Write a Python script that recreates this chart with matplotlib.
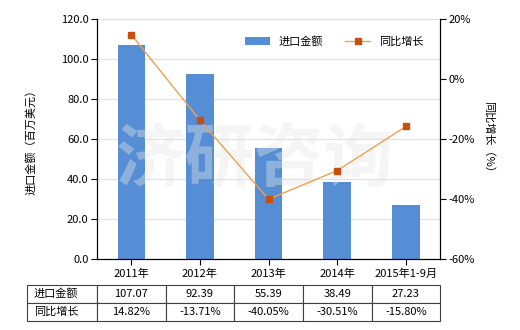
import matplotlib.pyplot as plt
import numpy as np

plt.rcParams['font.family'] = ['Noto Sans CJK SC', 'DejaVu Sans']
plt.rcParams['axes.unicode_minus'] = False

years = ['2011年', '2012年', '2013年', '2014年', '2015年1-9月']
amount = [107.07, 92.39, 55.39, 38.49, 27.23]
growth = [14.82, -13.71, -40.05, -30.51, -15.80]
amount_labels = ['107.07', '92.39', '55.39', '38.49', '27.23']
growth_labels = ['14.82%', '-13.71%', '-40.05%', '-30.51%', '-15.80%']

fig = plt.figure(figsize=(5.2, 3.3), dpi=100)
ax = fig.add_axes([0.1865, 0.215, 0.66, 0.727])
x = np.arange(len(years))

bars = ax.bar(x, amount, width=0.4, color='#558ED5', label='进口金额', zorder=2)
ax.set_xlim(-0.5, len(years) - 0.5)
ax.set_ylim(0, 120)
ax.set_yticks(np.arange(0, 121, 20))
ax.set_yticklabels(['%.1f' % v for v in np.arange(0, 121, 20)], fontsize=8)
ax.set_xticks(x)
ax.set_xticklabels(years, fontsize=8)
ax.tick_params(axis='x', length=4, pad=3)
ax.tick_params(axis='y', length=4, pad=2)
ax.grid(axis='y', color='#E0E0E0', linewidth=0.8, zorder=0)
ax.spines['top'].set_visible(False)
ax.set_ylabel('进口金额（百万美元）', fontsize=8, labelpad=18)

# watermark (above bars, below the line on the twin axes)
ax.text(0.49, 0.515, '济研咨询', transform=fig.transFigure, fontsize=50, color='#E6E6E6',
        alpha=0.4, ha='center', va='center', fontweight='bold', zorder=2.5)

ax2 = ax.twinx()
line, = ax2.plot(x, growth, color='#F0A050', linewidth=1, marker='s', markersize=4,
                 markerfacecolor='#C5500F', markeredgecolor='#C5500F', label='同比增长', zorder=3)
ax2.set_ylim(-60, 20)
ax2.set_yticks(np.arange(-60, 21, 20))
ax2.set_yticklabels(['%d%%' % v for v in np.arange(-60, 21, 20)], fontsize=8)
ax2.tick_params(axis='y', length=4, pad=2)
ax2.spines['top'].set_visible(False)
ax2.set_ylabel('同比增长（%）', fontsize=8, rotation=270, labelpad=14)

leg = ax2.legend([bars, line], ['进口金额', '同比增长'], loc='upper right', ncol=2,
                 frameon=False, fontsize=8, bbox_to_anchor=(0.98, 0.97),
                 handlelength=2.2, columnspacing=2.0)

rows = [['进口金额'] + amount_labels, ['同比增长'] + growth_labels]
table = ax.table(cellText=rows, bbox=[-0.204, -0.258, 1.204, 0.15], cellLoc='center',
                 colWidths=[70] + [68.6] * 5)
table.auto_set_font_size(False)
table.set_fontsize(8)
for (r, c), cell in table.get_celld().items():
    cell.set_edgecolor('#404040')
    cell.set_linewidth(0.8)
    if c == 0:
        cell.set_text_props(ha='left')
        cell._loc = 'left'

fig.savefig('out.png', dpi=100)
